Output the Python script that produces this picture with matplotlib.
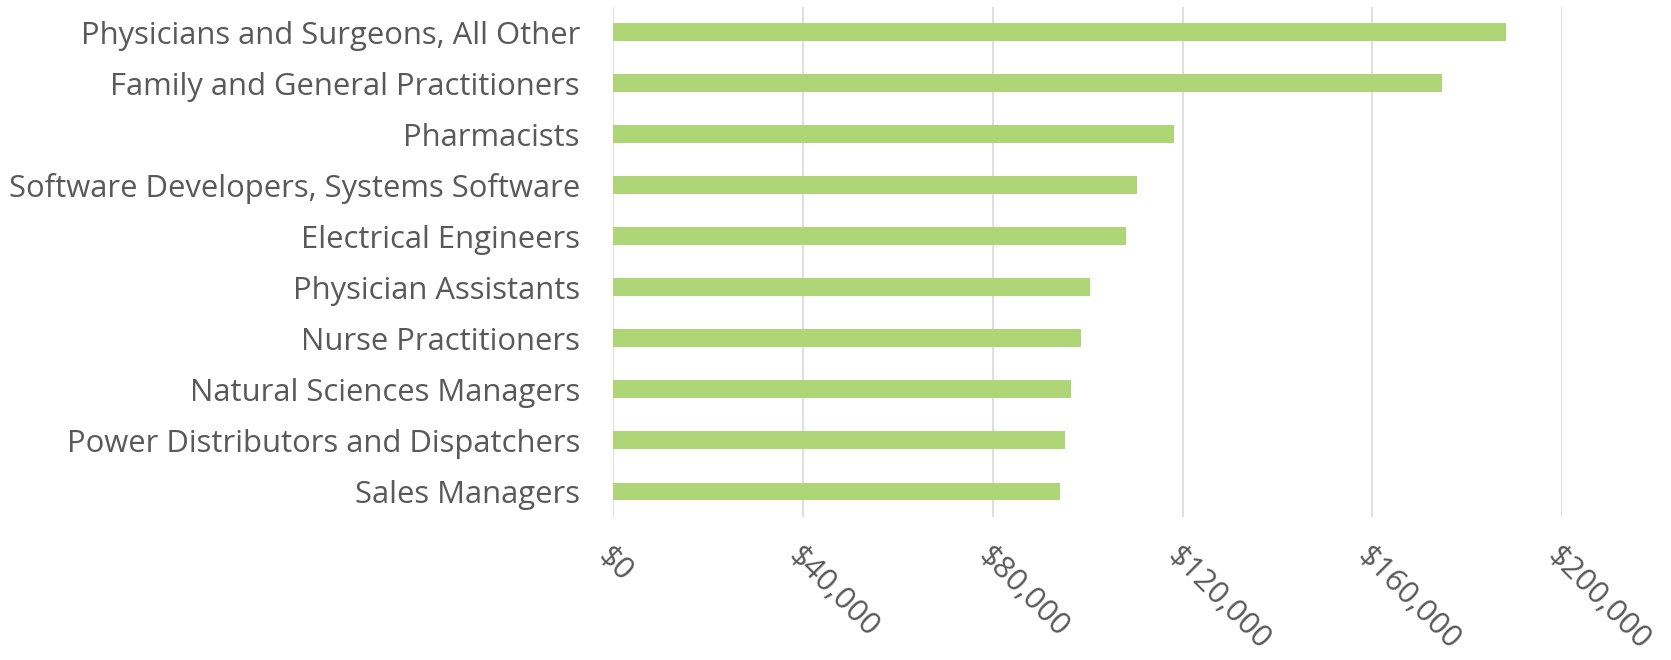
import matplotlib
matplotlib.use("Agg")
import matplotlib.pyplot as plt
from matplotlib.ticker import FuncFormatter

occupations = [
    "Physicians and Surgeons, All Other",
    "Family and General Practitioners",
    "Pharmacists",
    "Software Developers, Systems Software",
    "Electrical Engineers",
    "Physician Assistants",
    "Nurse Practitioners",
    "Natural Sciences Managers",
    "Power Distributors and Dispatchers",
    "Sales Managers",
]
salaries = [188200, 174600, 118200, 110500, 108000, 100400, 98600, 96400, 95300, 94100]
xticks = [0, 40000, 80000, 120000, 160000, 200000]

plt.rcParams['font.family'] = ['Open Sans', 'DejaVu Sans']
text_color = '#595959'

fig = plt.figure(figsize=(16.71, 6.6), dpi=100)
ax = fig.add_axes([0.367, 0.2167, 0.9348 - 0.367, 0.990 - 0.2167])

ypos = list(range(len(occupations)))
ax.barh(ypos, salaries, height=0.35, color='#AED677', zorder=3)
ax.set_ylim(len(occupations) - 0.5, -0.5)
ax.set_yticks(ypos)
ax.set_yticklabels(occupations)
ax.set_xlim(0, 200000)
ax.set_xticks(xticks)
ax.xaxis.set_major_formatter(FuncFormatter(lambda v, p: "${:,.0f}".format(v)))

ax.grid(axis='x', color='#D9D9D9', linewidth=1.2, zorder=0)
for s in ax.spines.values():
    s.set_visible(False)
ax.tick_params(axis='both', length=0, colors=text_color, labelsize=22.3)
ax.tick_params(axis='y', pad=24)
ax.tick_params(axis='x', pad=17)
for lbl in ax.get_xticklabels():
    lbl.set_rotation(-45)
    lbl.set_ha('left')
    lbl.set_va('top')
    lbl.set_rotation_mode('anchor')

fig.savefig("out.png", dpi=100)
